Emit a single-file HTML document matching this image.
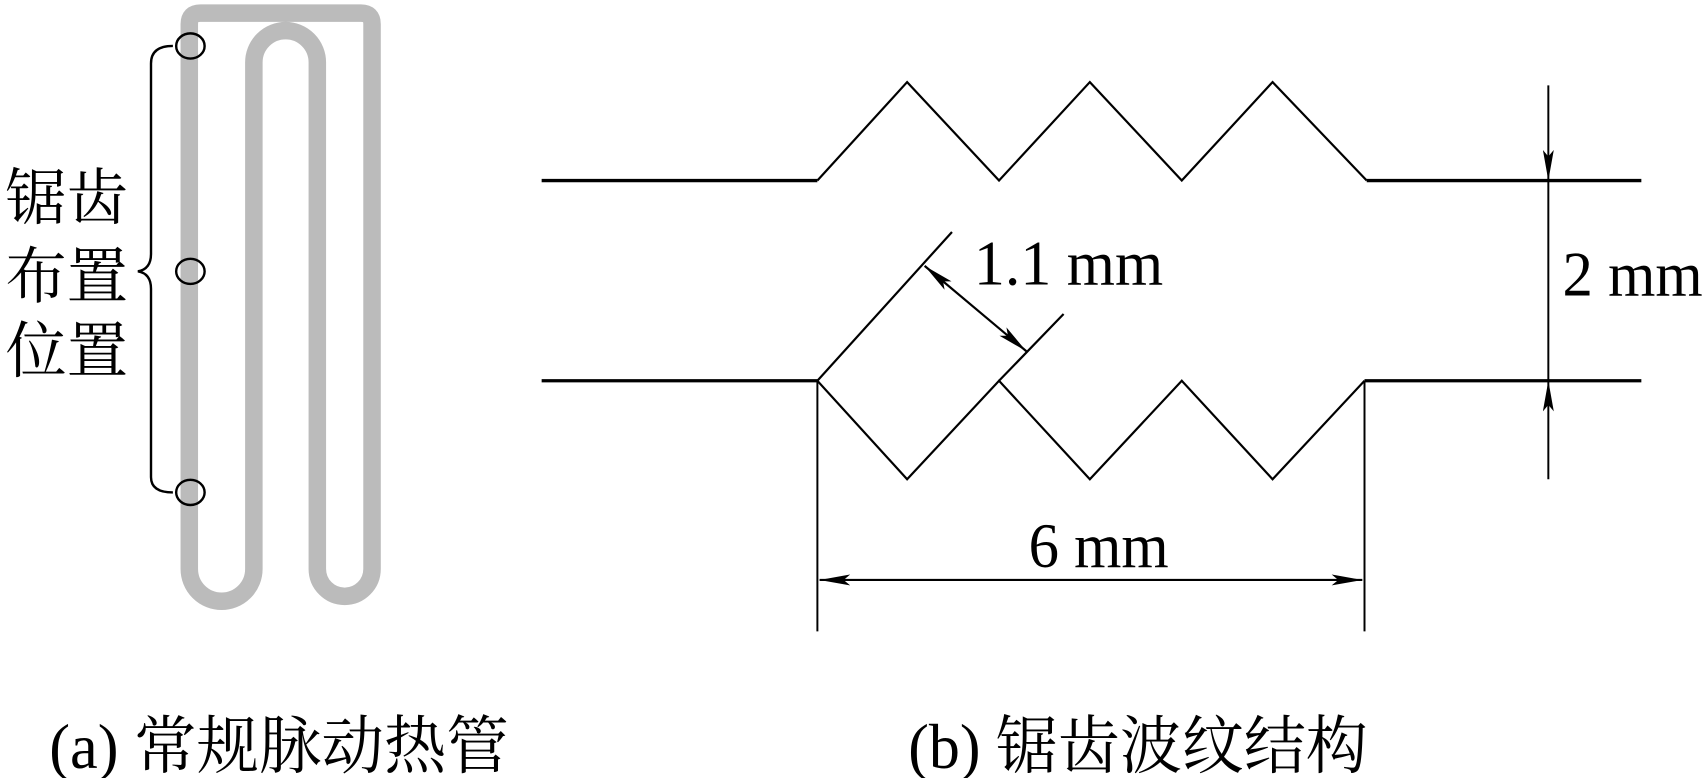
<!DOCTYPE html>
<html><head><meta charset="utf-8"><style>
html,body{margin:0;padding:0;background:#fff;}
svg{display:block;}
text{font-family:"Liberation Serif","Noto Serif CJK SC","Noto Sans CJK SC",serif;fill:#000;}
</style></head><body>
<svg width="1707" height="778" viewBox="0 0 1560 711" preserveAspectRatio="none" xmlns="http://www.w3.org/2000/svg">
<defs>
<marker id="ah" viewBox="0 0 28 10" refX="28" refY="5" markerWidth="28" markerHeight="10" markerUnits="userSpaceOnUse" orient="auto-start-reverse">
<path d="M0,0 L28,5 L0,10 L6,5 Z" fill="#000"/>
</marker>
</defs>
<!-- tube -->
<path d="M340,520 V22 Q340,12 330,12 H183 Q173,12 173,22 V520 A29.5,29.5 0 0 0 232,520 V57 A29,29 0 0 1 290,57 V520 A25,25 0 0 0 340,520 Z" fill="none" stroke="#bbbbbb" stroke-width="16" stroke-linejoin="round"/>
<g fill="none" stroke="#000" stroke-width="2.2">
<ellipse cx="174" cy="42" rx="13" ry="11.5"/>
<ellipse cx="174" cy="248" rx="13" ry="11.5"/>
<ellipse cx="174" cy="450" rx="13" ry="11.5"/>
<path d="M158,42 Q138,42 138,58 V232 Q138,246 126,248 Q138,250 138,264 V436 Q138,450 158,450"/>
</g>
<text x="5" y="200" font-size="56">锯齿</text>
<text x="5" y="272" font-size="56">布置</text>
<text x="5" y="340" font-size="56">位置</text>
<!-- right -->
<g fill="none" stroke="#000">
<path d="M495,165 H747" stroke-width="3"/>
<path d="M1249,165 H1500" stroke-width="3"/>
<path d="M495,348 H747" stroke-width="3"/>
<path d="M1247,348 H1500" stroke-width="3"/>
<path d="M747,165 L829,75 L913,165 L996,75 L1080,165 L1163,75 L1249,165" stroke-width="2"/>
<path d="M747,348 L829,438 L913,348 L996,438 L1080,348 L1163,438 L1247,348" stroke-width="2"/>
<path d="M747,348 L870,212" stroke-width="2"/>
<path d="M913,348 L972,287" stroke-width="2"/>
<path d="M747,348 V577" stroke-width="1.8"/>
<path d="M1247,348 V577" stroke-width="1.8"/>
<path d="M845,243 L938,321" stroke-width="2" marker-start="url(#ah)" marker-end="url(#ah)"/>
<path d="M749,530 H1245" stroke-width="2" marker-start="url(#ah)" marker-end="url(#ah)"/>
<path d="M1415,78 V165" stroke-width="1.8" marker-end="url(#ah)"/>
<path d="M1415,165 V348" stroke-width="1.8"/>
<path d="M1415,438 V348" stroke-width="1.8" marker-end="url(#ah)"/>
</g>
<text x="890" y="260" font-size="58" textLength="173" lengthAdjust="spacingAndGlyphs">1.1 mm</text>
<text x="1428" y="270" font-size="58" textLength="128" lengthAdjust="spacingAndGlyphs">2 mm</text>
<text x="940" y="518" font-size="58" textLength="128" lengthAdjust="spacingAndGlyphs">6 mm</text>
<text x="45" y="702" font-size="58" textLength="420" lengthAdjust="spacingAndGlyphs">(a) 常规脉动热管</text>
<text x="830" y="702" font-size="58" textLength="420" lengthAdjust="spacingAndGlyphs">(b) 锯齿波纹结构</text>
</svg>
</body></html>
